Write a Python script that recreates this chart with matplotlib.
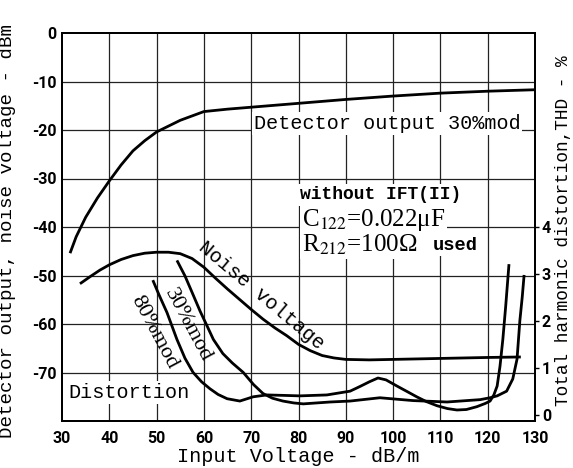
import matplotlib
matplotlib.use("Agg")
import matplotlib.pyplot as plt

# ---------------- data ----------------
det_x = [31.7, 33, 35, 37.5, 40, 42.5, 45, 47.5, 50, 52.5, 55, 57.5, 60, 65, 70, 80, 90, 100, 110, 120, 130]
det_y = [-45.4, -42.0, -38.0, -34.0, -30.5, -27.2, -24.3, -22.2, -20.4, -19.2, -18.0, -17.1, -16.2,
         -15.7, -15.3, -14.5, -13.7, -13.0, -12.4, -12.0, -11.7]

noise_x = [33.8, 36, 38, 40, 42.5, 45, 47.5, 50, 52.5, 55, 57.5, 60, 62.5, 65, 67.5, 70, 72.5, 75,
           77.5, 80, 82.5, 85, 87.5, 90, 95, 100, 110, 120, 127]
noise_y = [-51.7, -50.2, -48.9, -47.8, -46.7, -45.9, -45.4, -45.2, -45.2, -45.5, -46.5, -48.3, -50.6,
           -52.8, -54.9, -57.0, -59.0, -60.8, -62.4, -64.2, -65.5, -66.5, -67.0, -67.3, -67.4, -67.3,
           -67.1, -66.9, -66.8]

thd80_x = [49.2, 50.5, 52.2, 54.3, 56, 57.7, 59.5, 61.3, 63, 64.9, 67.6, 70.4, 73.3, 77, 80.3, 86,
           90.9, 93, 95, 96.8, 98.5, 100.8, 103, 105, 107, 109.3, 111.5, 113.5, 115.5, 117.7, 119.5,
           120.5, 121.3, 122, 122.6, 123.2, 123.8, 124.5]
thd80_y = [2.86, 2.55, 2.17, 1.6, 1.2, 0.9, 0.7, 0.55, 0.43, 0.34, 0.29, 0.38, 0.42, 0.41, 0.40, 0.42,
           0.50, 0.60, 0.70, 0.78, 0.74, 0.61, 0.49, 0.38, 0.28, 0.19, 0.13, 0.10, 0.11, 0.17, 0.24,
           0.29, 0.42, 0.61, 1.03, 1.6, 2.3, 3.2]

thd30_x = [54.3, 56, 57.5, 59.2, 60.7, 62, 64, 66, 68.3, 70.5, 72.5, 74.5, 76.7, 79, 81, 86.7, 90.9,
           97.2, 104.2, 111.4, 118.4, 120.5, 122, 124, 125.3, 126.2, 126.8, 127.3, 127.7]
thd30_y = [3.28, 2.95, 2.6, 2.2, 1.88, 1.6, 1.3, 1.1, 0.9, 0.64, 0.45, 0.35, 0.29, 0.25, 0.23, 0.27,
           0.29, 0.36, 0.30, 0.27, 0.32, 0.36, 0.40, 0.50, 0.76, 1.18, 2.0, 2.5, 2.97]

x_ticks = [30, 40, 50, 60, 70, 80, 90, 100, 110, 120, 130]
y_ticks = [0, -10, -20, -30, -40, -50, -60, -70]
y_grid = [-10, -20, -30, -40, -50, -60, -70]
thd_ticks = [0, 1, 2, 3, 4]

# ---------------- figure ----------------
plt.rcParams["mathtext.fontset"] = "stix"
W, H = 573, 468
fig = plt.figure(figsize=(W / 100, H / 100), dpi=100)
ax = fig.add_axes([62 / W, 1 - 421 / H, (535 - 62) / W, (421 - 33) / H])
ax.set_xlim(30, 130)
ax.set_ylim(-80, 0)

mono = "Liberation Mono"
serif = "Liberation Serif"
tickfont = dict(family="Roboto", weight="bold", size=11.5)

for xv in x_ticks[1:-1]:
    ax.axvline(xv, color="#222222", lw=0.9, zorder=1)
for yv in y_grid:
    ax.axhline(yv, color="#222222", lw=0.9, zorder=1)

lw = 2.0
ax.plot(det_x, det_y, color="black", lw=lw, zorder=3, solid_capstyle="butt")
ax.plot(noise_x, noise_y, color="black", lw=lw, zorder=3, solid_capstyle="butt")

# THD on right axis
ax2 = ax.twinx()
thd0 = -78.7
thd_unit = 9.7
ax2.set_ylim((-80 - thd0) / thd_unit, (0 - thd0) / thd_unit)
ax2.plot(thd80_x, thd80_y, color="black", lw=lw, zorder=3, solid_capstyle="butt")
ax2.plot(thd30_x, thd30_y, color="black", lw=lw, zorder=3, solid_capstyle="butt")
ax2.set_yticks(thd_ticks)
ax2.set_yticklabels([str(t) for t in thd_ticks], fontdict=tickfont)
ax2.tick_params(axis="y", length=3, width=1, direction="out", pad=2)

ax.set_xticks(x_ticks)
ax.set_xticklabels([str(t) for t in x_ticks], fontdict=tickfont)
ax.set_yticks(y_ticks)
ax.set_yticklabels([str(t) for t in y_ticks], fontdict=tickfont)
ax.tick_params(axis="y", length=0, pad=4)
ax.tick_params(axis="x", length=0, pad=7)

for a in (ax, ax2):
    for s in a.spines.values():
        s.set_linewidth(1.4)
        s.set_color("black")

ax.set_xlabel("Input Voltage - dB/m", fontfamily=mono, fontsize=14.5, labelpad=1)
ax.set_ylabel("Detector output, noise voltage - dBm", fontfamily=mono, fontsize=13.8)
ax.yaxis.set_label_coords(-0.097, 0.49)
ax2.set_ylabel("Total harmonic distortion,THD - %", fontfamily=mono, fontsize=12.8)
ax2.yaxis.set_label_coords(1.042, 0.49)

white = dict(facecolor="white", edgecolor="none", pad=1.5)

ax.text(98.7, -18.6, "Detector output 30%mod", fontfamily=mono, fontsize=14.5,
        ha="center", va="center", bbox=white, zorder=4)
ax.text(80.3, -33.4, "without IFT(II)", fontfamily=mono, fontsize=13, weight="bold",
        ha="left", va="center", bbox=white, zorder=4)
ax.text(80.7, -38.6, "C$_{122}$=0.022\u03bcF", fontfamily=serif, fontsize=18,
        ha="left", va="center", bbox=white, zorder=4)
ax.text(80.7, -43.7, "R$_{212}$=100\u03a9", fontfamily=serif, fontsize=18,
        ha="left", va="center", bbox=white, zorder=4)
ax.text(108.3, -43.9, "used", fontfamily=mono, fontsize=13.5, weight="bold",
        ha="left", va="center", bbox=white, zorder=4)
ax.text(31.3, -74.2, "Distortion", fontfamily=mono, fontsize=14.5,
        ha="left", va="center", bbox=white, zorder=4)
ax.text(72.2, -54.0, "Noise voltage", fontfamily=mono, fontsize=14.5, rotation=-40,
        ha="center", va="center", rotation_mode="anchor", zorder=4)
ax.text(56.6, -60.3, "30%mod", fontfamily=serif, fontsize=16, rotation=-62,
        ha="center", va="center", rotation_mode="anchor", zorder=4)
ax.text(49.4, -61.8, "80%mod", fontfamily=serif, fontsize=16, rotation=-62,
        ha="center", va="center", rotation_mode="anchor", zorder=4)

fig.savefig("out.png", dpi=100, facecolor="white")
